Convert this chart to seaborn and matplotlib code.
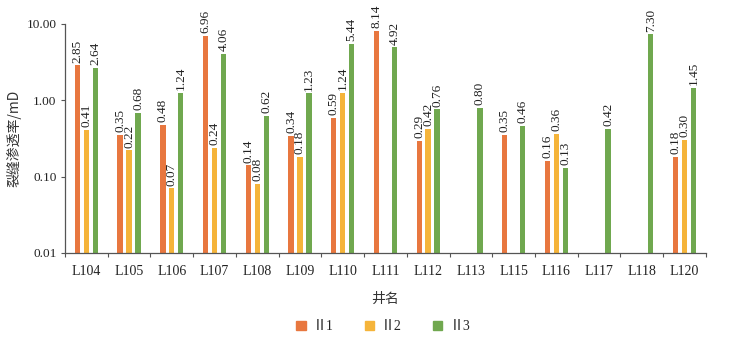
import numpy as np
import pandas as pd
import matplotlib
matplotlib.use("Agg")
import matplotlib.pyplot as plt
import seaborn as sns
from matplotlib.ticker import FixedLocator, NullFormatter, FixedFormatter

wells = ["L104", "L105", "L106", "L107", "L108", "L109", "L110", "L111",
         "L112", "L113", "L115", "L116", "L117", "L118", "L120"]
layers = ["Ⅱ1", "Ⅱ2", "Ⅱ3"]
perm_II1 = [2.85, 0.35, 0.48, 6.96, 0.14, 0.34, 0.59, 8.14, 0.29, np.nan, 0.35, 0.16, np.nan, np.nan, 0.18]
perm_II2 = [0.41, 0.22, 0.07, 0.24, 0.08, 0.18, 1.24, np.nan, 0.42, np.nan, np.nan, 0.36, np.nan, np.nan, 0.30]
perm_II3 = [2.64, 0.68, 1.24, 4.06, 0.62, 1.23, 5.44, 4.92, 0.76, 0.80, 0.46, 0.13, 0.42, 7.30, 1.45]
colors = ["#E8773F", "#F5B43A", "#70A84F"]

df = pd.DataFrame({
    "井名": wells * 3,
    "层位": [layers[0]] * len(wells) + [layers[1]] * len(wells) + [layers[2]] * len(wells),
    "渗透率": perm_II1 + perm_II2 + perm_II3,
})

sns.set_theme(style="white")
serif = ["Liberation Serif", "Noto Sans CJK SC"]
plt.rcParams["font.family"] = serif
plt.rcParams["axes.unicode_minus"] = False

fig = plt.figure(figsize=(7.3, 3.46), dpi=100)
ax = fig.add_axes([0.089, 0.269, 0.878, 0.662])

sns.barplot(data=df, x="井名", y="渗透率", hue="层位", order=wells, hue_order=layers,
            palette=colors, width=0.63, gap=0.40, saturation=1, linewidth=0,
            ax=ax, legend=True)

ax.set_yscale("log")
ax.set_ylim(0.01, 10)
ax.set_xlim(-0.5, len(wells) - 0.5)
ax.yaxis.set_major_locator(FixedLocator([0.01, 0.1, 1, 10]))
ax.yaxis.set_major_formatter(FixedFormatter(["0.01", "0.10", "1.00", "10.00"]))
ax.yaxis.set_minor_locator(FixedLocator([]))

# category labels at centres, tick marks at group boundaries
ax.xaxis.set_major_locator(FixedLocator(np.arange(len(wells) + 1) - 0.5))
ax.xaxis.set_major_formatter(NullFormatter())
ax.xaxis.set_minor_locator(FixedLocator(np.arange(len(wells))))
ax.xaxis.set_minor_formatter(FixedFormatter(wells))
ax.tick_params(axis="x", which="major", direction="out", length=3, width=0.8, color="#555555", bottom=True)
ax.tick_params(axis="x", which="minor", length=0, pad=9, labelsize=10, labelcolor="#222222")
ax.tick_params(axis="y", which="major", direction="out", length=3, width=0.8, color="#555555", left=True,
               labelsize=9.5, labelcolor="#222222", pad=3)

for side in ["top", "right"]:
    ax.spines[side].set_visible(False)
for side in ["left", "bottom"]:
    ax.spines[side].set_color("#555555")
    ax.spines[side].set_linewidth(0.9)

for cont in ax.containers:
    ax.bar_label(cont, fmt="%.2f", rotation=90, padding=2, fontsize=9.5, color="#222222")

ax.set_xlabel("井名", fontsize=10, color="#333333", labelpad=10, family="Noto Sans CJK SC")
ax.set_ylabel("裂缝渗透率/mD", fontsize=10, color="#333333", labelpad=4, family=["Noto Sans CJK SC"])

ax.legend_.remove()
handles = [plt.Rectangle((0, 0), 1, 1, color=c) for c in colors]
fig.legend(handles, layers, loc="center", bbox_to_anchor=(0.525, 0.055), ncol=3, frameon=False,
           handlelength=0.7, handleheight=0.7, handletextpad=0.5, columnspacing=2.2, fontsize=10)

fig.savefig("out.png", dpi=100)
